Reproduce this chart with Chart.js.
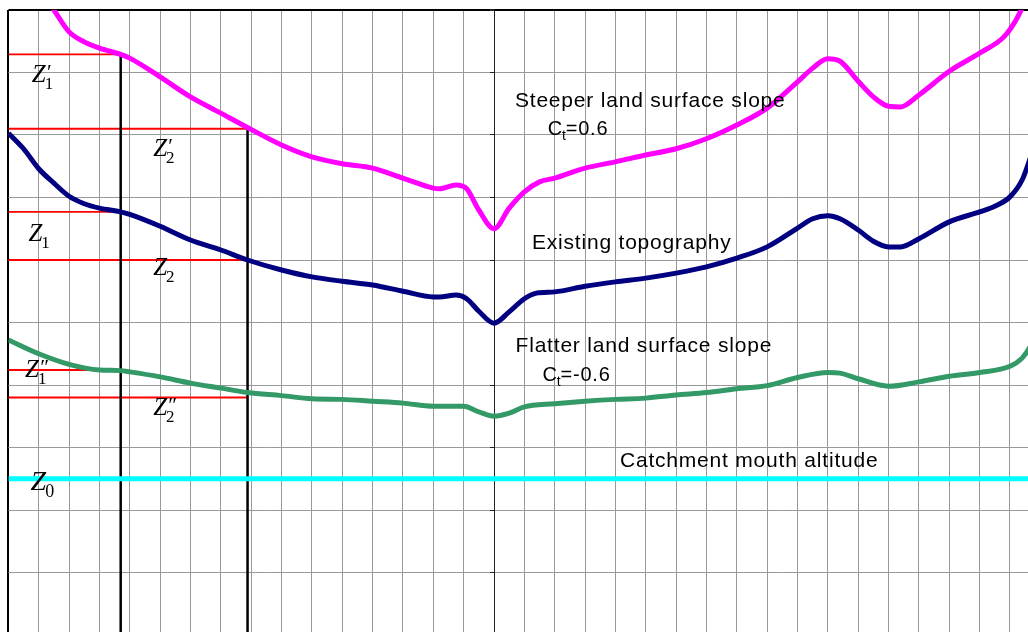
<!DOCTYPE html>
<html>
<head>
<meta charset="utf-8">
<script src="https://cdn.jsdelivr.net/npm/chart.js@4/dist/chart.umd.min.js"></script>
<style>
  html, body { margin: 0; padding: 0; background: #fff; overflow: hidden; width: 1028px; height: 632px; }
  canvas { display: block; }
</style>
</head>
<body>
<canvas id="profile" width="1044" height="640"></canvas>
<script>
// Cross-section along the catchment: distance in grid cells (outlet at 0), altitude in grid cells.

// Steeper land surface slope (Ct = 0.6)
const steeperX = [-15, -14.5, -14, -13.5, -13, -12.3, -12, -11, -10, -9, -8.12, -7, -6, -5, -4, -3, -2, -1.8, -1.25, -0.9, -0.5, 0, 0.5, 1, 1.5, 2, 3, 4, 5, 6, 7, 8, 9, 10, 10.5, 11, 11.4, 12, 12.5, 13, 13.4, 14, 15, 16, 16.8, 17.2, 17.6];
const steeperZ = [10.35, 10.0, 9.65, 9.49, 9.39, 9.29, 9.23, 8.93, 8.61, 8.35, 8.12, 7.84, 7.65, 7.54, 7.47, 7.31, 7.15, 7.14, 7.2, 7.14, 6.8, 6.5, 6.83, 7.09, 7.25, 7.31, 7.47, 7.57, 7.68, 7.78, 7.94, 8.16, 8.43, 8.85, 9.07, 9.22, 9.18, 8.86, 8.61, 8.46, 8.45, 8.64, 9.02, 9.31, 9.57, 9.84, 10.24];

// Existing topography
const existingX = [-16, -15.5, -15, -14.5, -14, -13.5, -13, -12.3, -12, -11, -10, -9, -8.12, -7, -6, -5, -4, -3, -2, -1.8, -1.25, -0.9, -0.5, 0, 0.5, 1, 1.4, 2, 3, 4, 5, 6, 7, 8, 9, 10, 10.5, 11, 11.4, 12, 12.5, 13, 13.4, 14, 15, 16, 16.5, 17, 17.4, 17.7, 18];
const existingZ = [8.03, 7.78, 7.46, 7.23, 7.02, 6.9, 6.83, 6.77, 6.73, 6.54, 6.32, 6.16, 6.0, 5.84, 5.73, 5.66, 5.6, 5.5, 5.41, 5.41, 5.44, 5.38, 5.18, 4.99, 5.17, 5.38, 5.47, 5.49, 5.58, 5.65, 5.71, 5.79, 5.89, 6.03, 6.21, 6.51, 6.66, 6.71, 6.66, 6.48, 6.3, 6.21, 6.21, 6.34, 6.61, 6.77, 6.86, 7.01, 7.28, 7.68, 8.16];

// Flatter land surface slope (Ct = -0.6)
const flatterX = [-16, -15, -14, -13, -12.3, -12, -11, -10, -9, -8.12, -7, -6, -5, -4, -3, -2, -1, -0.5, 0, 0.5, 1, 2, 3, 4, 5, 6, 7, 8, 9, 10, 11, 11.4, 12, 13, 14, 15, 16, 17, 17.4, 17.7, 18];
const flatterZ = [4.72, 4.5, 4.33, 4.24, 4.23, 4.21, 4.13, 4.03, 3.95, 3.88, 3.83, 3.78, 3.77, 3.74, 3.71, 3.66, 3.66, 3.57, 3.5, 3.55, 3.65, 3.7, 3.74, 3.77, 3.79, 3.84, 3.88, 3.94, 3.99, 4.12, 4.2, 4.19, 4.1, 3.98, 4.05, 4.14, 4.2, 4.3, 4.43, 4.64, 4.96];

// Catchment mouth altitude Z0
const mouthZ = 2.5;

// Two reading positions along the section and the altitudes read there
const readX = [-12.3, -8.12];
const readSteeper = [9.29, 8.10];   // Z'1, Z'2
const readExisting = [6.77, 6.00];  // Z1, Z2
const readFlatter = [4.24, 3.80];   // Z"1, Z"2

// Axis extent (grid cells)
const xMin = -16, xMax = 18, yMin = 0, yMax = 10;

const toPoints = (xs, ys) => xs.map((x, i) => ({ x, y: ys[i] }));

const curve = (label, xs, ys, color) => ({
  label, data: toPoints(xs, ys), borderColor: color, borderWidth: 5,
  pointRadius: 0, cubicInterpolationMode: 'monotone', fill: false
});
const segment = (label, pts, color, width) => ({
  label, data: pts, borderColor: color, borderWidth: width,
  pointRadius: 0, tension: 0, fill: false
});

const datasets = [
  curve('Steeper land surface slope', steeperX, steeperZ, '#ff00ff'),
  curve('Existing topography', existingX, existingZ, '#000080'),
  curve('Flatter land surface slope', flatterX, flatterZ, '#339966'),
  segment('Catchment mouth altitude', [{ x: xMin, y: mouthZ }, { x: xMax, y: mouthZ }], '#00ffff', 5),
];
readX.forEach((rx, i) => {
  datasets.push(segment('read ' + (i + 1), [{ x: rx, y: readSteeper[i] }, { x: rx, y: yMin - 1 }], '#000000', 2.5));
});
readX.forEach((rx, i) => {
  [readSteeper[i], readExisting[i], readFlatter[i]].forEach((lv, k) => {
    datasets.push(segment('level ' + i + k, [{ x: xMin, y: lv }, { x: rx, y: lv }], '#ff0000', 1.8));
  });
});

// Text placed in data coordinates
const textLabels = [
  { text: 'Steeper land surface slope', x: 0.69, y: 8.45 },
  { text: 'Existing topography', x: 1.25, y: 6.18 },
  { text: 'Flatter land surface slope', x: 0.71, y: 4.53 },
  { text: 'Catchment mouth altitude', x: 4.15, y: 2.69 }
];
const coefLabels = [
  { value: '=0.6', x: 1.77, y: 8.0 },
  { value: '=-0.6', x: 1.6, y: 4.07 }
];
const zLabels = [
  { sub: '1', primes: '\u2032', x: -15.23, y: 8.85 },
  { sub: '2', primes: '\u2032', x: -11.23, y: 7.67 },
  { sub: '1', primes: '', x: -15.34, y: 6.30 },
  { sub: '2', primes: '', x: -11.23, y: 5.76 },
  { sub: '1', primes: '\u2033', x: -15.45, y: 4.13 },
  { sub: '2', primes: '\u2033', x: -11.23, y: 3.52 },
  { sub: '0', primes: '', x: -15.27, y: 2.32, big: true }
];

const SANS = '"Liberation Sans", Arial, sans-serif';
const SERIF = '"Liberation Serif", "Times New Roman", serif';

const labelPlugin = {
  id: 'sectionLabels',
  afterDatasetsDraw(chart) {
    const { ctx, scales: { x, y } } = chart;
    ctx.save();
    ctx.fillStyle = '#000';
    ctx.textAlign = 'left';
    ctx.textBaseline = 'alphabetic';

    ctx.font = '21px ' + SANS;
    if ('letterSpacing' in ctx) ctx.letterSpacing = '0.8px';
    textLabels.forEach(l => ctx.fillText(l.text, x.getPixelForValue(l.x), y.getPixelForValue(l.y)));

    coefLabels.forEach(l => {
      let px = x.getPixelForValue(l.x);
      const py = y.getPixelForValue(l.y);
      ctx.font = '20px ' + SANS;
      ctx.fillText('C', px, py);
      px += ctx.measureText('C').width - 1;
      ctx.font = '14px ' + SANS;
      ctx.fillText('t', px, py + 5);
      px += ctx.measureText('t').width - 1;
      ctx.font = '20px ' + SANS;
      ctx.fillText(l.value, px, py);
    });
    if ('letterSpacing' in ctx) ctx.letterSpacing = '0px';

    zLabels.forEach(l => {
      const px = x.getPixelForValue(l.x);
      const py = y.getPixelForValue(l.y);
      const size = l.big ? 28 : 25;
      ctx.font = 'italic ' + size + 'px ' + SERIF;
      ctx.fillText('Z', px, py);
      const w = ctx.measureText('Z').width;
      ctx.font = (l.big ? 18 : 17) + 'px ' + SERIF;
      ctx.fillText(l.sub, px + w - 1, py + 7);
      if (l.primes) {
        ctx.font = 'italic 21px ' + SERIF;
        ctx.fillText(l.primes, px + w, py - 3);
      }
    });
    ctx.restore();
  }
};

const gridGray = '#999999';

new Chart(document.getElementById('profile'), {
  type: 'line',
  data: { datasets },
  plugins: [labelPlugin],
  options: {
    responsive: false,
    animation: false,
    events: [],
    layout: { padding: { left: 8.4, right: 3.7, top: 10, bottom: 5 } },
    plugins: { legend: { display: false }, tooltip: { enabled: false }, title: { display: false } },
    scales: {
      x: {
        type: 'linear', min: xMin, max: xMax,
        position: { y: yMin },
        ticks: { display: false, stepSize: 1, autoSkip: false, maxTicksLimit: 100 },
        grid: {
          drawTicks: false,
          color: c => (c.tick && c.tick.value === xMin ? '#000' : gridGray),
          lineWidth: c => (c.tick && c.tick.value === xMin ? 2 : 1)
        },
        border: { display: false }
      },
      y: {
        type: 'linear', min: yMin, max: yMax,
        position: { x: 0 },
        ticks: { display: false, stepSize: 1, maxTicksLimit: 100 },
        grid: {
          drawTicks: true, tickLength: 4, tickColor: '#222',
          color: c => (c.tick && c.tick.value === yMax ? '#000' : gridGray),
          lineWidth: c => (c.tick && c.tick.value === yMax ? 2 : 1)
        },
        border: { display: true, color: '#222', width: 1 }
      }
    }
  }
});
</script>
</body>
</html>
